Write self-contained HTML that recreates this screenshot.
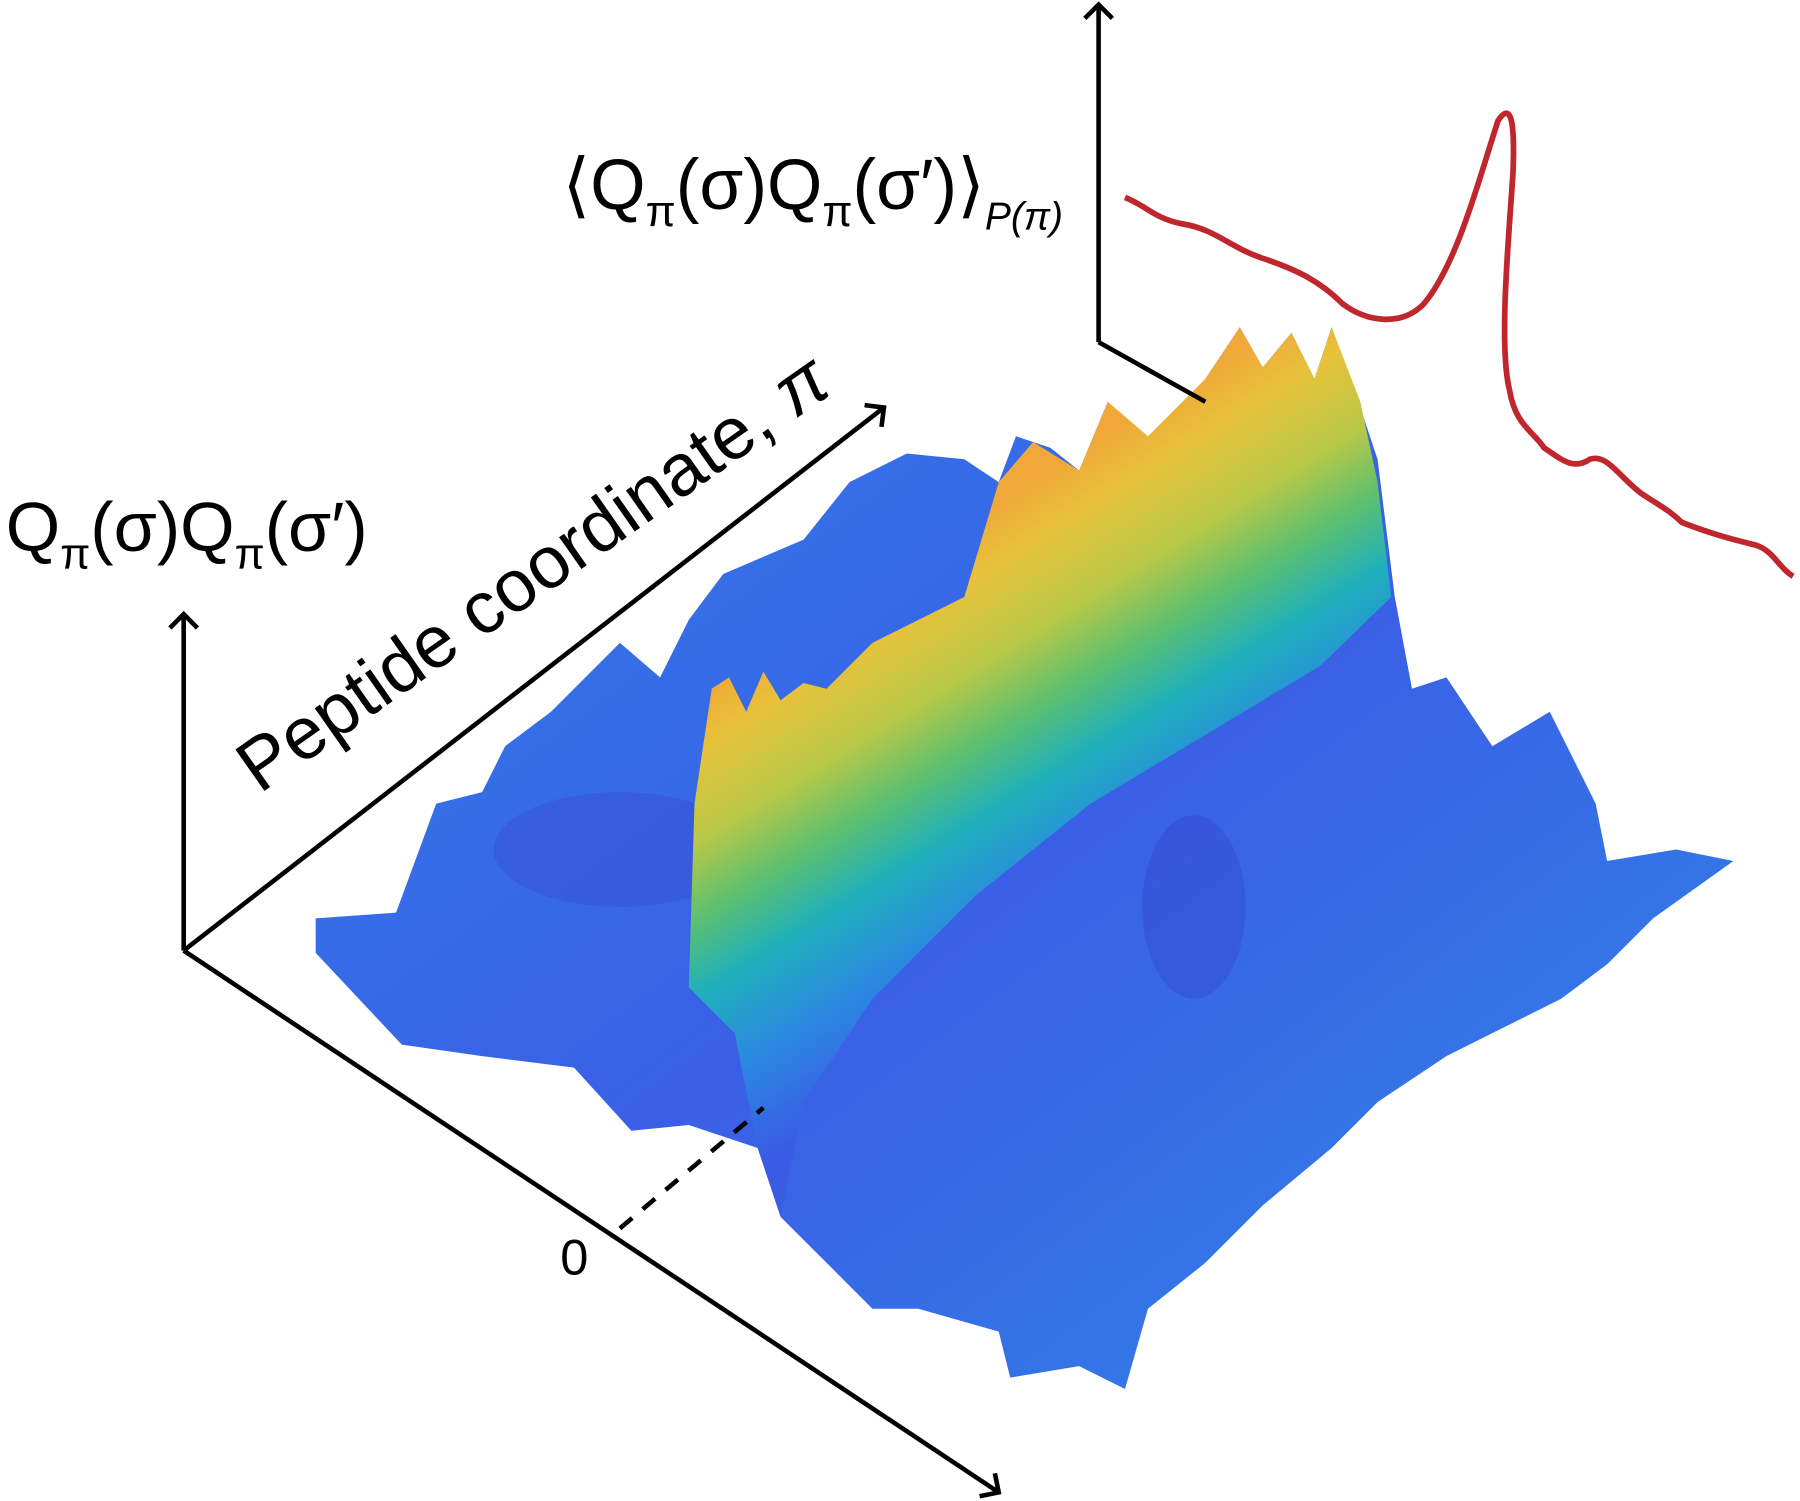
<!DOCTYPE html>
<html><head><meta charset="utf-8"><style>
html,body{margin:0;padding:0;background:#fff;}
svg{display:block;}
text{font-family:"Liberation Sans","DejaVu Sans",sans-serif;fill:#000;}
</style></head><body>
<svg width="1800" height="1501" viewBox="0 0 1568 1307.5" xmlns="http://www.w3.org/2000/svg">
<defs>
<marker id="ar" markerWidth="30" markerHeight="30" refX="15" refY="15" orient="auto" markerUnits="userSpaceOnUse">
<path d="M3,3 L15,15 L3,27" fill="none" stroke="#000" stroke-width="4"/>
</marker>
<linearGradient id="base" x1="0" y1="0" x2="1" y2="1">
<stop offset="0" stop-color="#2f7fe8"/>
<stop offset="0.5" stop-color="#3a5fe6"/>
<stop offset="1" stop-color="#2f88e6"/>
</linearGradient>
<linearGradient id="ridge" gradientUnits="userSpaceOnUse" x1="800" y1="480" x2="1000" y2="800">
<stop offset="0" stop-color="#f0a838"/>
<stop offset="0.12" stop-color="#e8c23a"/>
<stop offset="0.3" stop-color="#b8c848"/>
<stop offset="0.45" stop-color="#5cc070"/>
<stop offset="0.6" stop-color="#1fb0bc"/>
<stop offset="0.8" stop-color="#2c86e2"/>
<stop offset="1" stop-color="#3a5ce4"/>
</linearGradient>
</defs>

<!-- surface body -->
<polygon fill="url(#base)" points="275,800 345,795 380,700 420,690 440,650 480,620 540,560 575,590 600,540 630,500 700,470 740,420 790,395 840,400 870,420 885,380 915,390 940,410 965,350 980,390 1005,380 1030,360 1050,330 1080,285 1100,320 1125,290 1145,330 1160,285 1180,340 1200,400 1215,520 1230,600 1260,590 1300,650 1350,620 1390,700 1400,750 1460,740 1510,750 1440,800 1400,840 1360,870 1300,900 1260,920 1200,960 1160,1000 1100,1050 1050,1100 1000,1140 980,1210 940,1190 880,1200 870,1160 800,1140 760,1140 720,1100 680,1060 660,1000 600,980 550,985 500,930 420,920 350,910 275,830"/>
<ellipse cx="540" cy="740" rx="110" ry="50" fill="#3a45d0" opacity="0.35"/>
<ellipse cx="1040" cy="790" rx="45" ry="80" fill="#3340c8" opacity="0.35"/>

<!-- main ridge -->
<polygon fill="url(#ridge)" points="620,600 635,590 650,620 665,585 680,610 700,595 720,600 760,560 840,520 870,420 900,385 940,410 965,350 1000,380 1050,330 1080,285 1100,320 1125,290 1145,330 1160,285 1185,350 1200,420 1212,520 1150,580 1050,640 950,700 850,780 760,870 700,960 680,1060 660,1000 640,900 600,860 605,700"/>

<!-- red curve -->
<path d="M980,172 C1000,180 1005,190 1030,195 C1060,200 1070,215 1100,225 C1130,235 1150,245 1170,265 C1190,280 1220,285 1240,265 C1270,230 1290,150 1305,105 C1315,90 1320,100 1318,150 C1315,200 1305,300 1315,340 C1320,370 1335,375 1345,390 C1360,400 1370,410 1385,400 C1400,395 1410,415 1430,430 C1445,440 1455,445 1465,455 C1490,465 1510,470 1530,475 C1545,480 1550,495 1562,502" fill="none" stroke="#c0272d" stroke-width="5"/>

<!-- axes -->
<g stroke="#000" stroke-width="4" fill="none">
<line x1="957" y1="298" x2="957" y2="4" marker-end="url(#ar)"/>
<line x1="957" y1="298" x2="1050" y2="350"/>
<line x1="160" y1="828" x2="160" y2="535" marker-end="url(#ar)"/>
<line x1="160" y1="828" x2="770" y2="355" marker-end="url(#ar)"/>
<line x1="160" y1="828" x2="870" y2="1300" marker-end="url(#ar)"/>
<line x1="540" y1="1070" x2="665" y2="965" stroke-dasharray="14,12"/>
</g>

<!-- labels -->
<text x="488" y="1110" font-size="44">0</text>
<text x="5" y="480" font-size="61">Q<tspan font-size="38" dy="15">π</tspan><tspan dy="-15">(σ)Q</tspan><tspan font-size="38" dy="15">π</tspan><tspan dy="-15">(σ′)</tspan></text>
<text x="490" y="182" font-size="62">⟨Q<tspan font-size="38" dy="15">π</tspan><tspan dy="-15">(σ)Q</tspan><tspan font-size="38" dy="15">π</tspan><tspan dy="-15">(σ′)⟩</tspan><tspan font-size="34" dy="18" font-style="italic">P(π)</tspan></text>
<text x="0" y="0" font-size="64" transform="translate(226,692) rotate(-35)">Peptide coordinate, <tspan font-style="italic">π</tspan></text>
</svg>
</body></html>
